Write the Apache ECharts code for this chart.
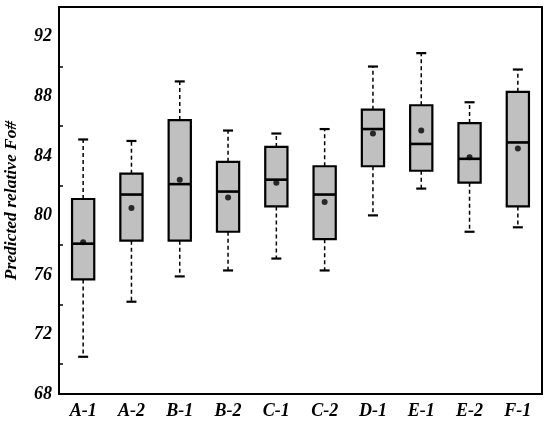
<!DOCTYPE html>
<html>
<head>
<meta charset="utf-8">
<script src="https://cdn.jsdelivr.net/npm/echarts@6/dist/echarts.min.js"></script>
<style>
  html, body { margin: 0; padding: 0; background: #fff; }
  #chart { width: 550px; height: 423px; }
</style>
</head>
<body>
<div id="chart"></div>
<script>
// --- data ---
const categories = ['A-1', 'A-2', 'B-1', 'B-2', 'C-1', 'C-2', 'D-1', 'E-1', 'E-2', 'F-1'];
const whiskerLow  = [70.5, 74.2, 75.9, 76.3, 77.1, 76.3, 80.0, 81.8, 78.9, 79.2];
const q1Values    = [75.7, 78.3, 78.3, 78.9, 80.6, 78.4, 83.3, 83.0, 82.2, 80.6];
const medians     = [78.1, 81.4, 82.1, 81.6, 82.4, 81.4, 85.8, 84.8, 83.8, 84.9];
const q3Values    = [81.1, 82.8, 86.4, 83.6, 84.6, 83.3, 87.1, 87.4, 86.2, 88.3];
const whiskerHigh = [85.1, 85.0, 89.0, 85.7, 85.5, 85.8, 90.0, 90.9, 87.6, 89.8];
const means       = [78.2, 80.5, 82.4, 81.2, 82.2, 80.9, 85.5, 85.7, 83.9, 84.5];

const FONT = '"Liberation Serif", "Times New Roman", serif';

const boxData = categories.map((c, i) =>
    [i, whiskerLow[i], q1Values[i], medians[i], q3Values[i], whiskerHigh[i]]);
const meanData = categories.map((c, i) => [i, means[i]]);

// box + dashed whiskers, positions come from the axes via api.coord
function renderBox(params, api) {
    const i = api.value(0);
    const pMin = api.coord([i, api.value(1)]);
    const pQ1 = api.coord([i, api.value(2)]);
    const pMed = api.coord([i, api.value(3)]);
    const pQ3 = api.coord([i, api.value(4)]);
    const pMax = api.coord([i, api.value(5)]);
    const band = api.size([1, 0])[0];
    const x = pMed[0];
    const half = band * 0.23;
    const cap = 5;
    const dash = { stroke: '#000', lineWidth: 1.5, lineDash: [4, 3] };
    const solid = { stroke: '#000', lineWidth: 2.2 };
    return {
        type: 'group',
        children: [
            { type: 'line', shape: { x1: x, y1: pQ3[1], x2: x, y2: pMax[1] }, style: dash },
            { type: 'line', shape: { x1: x, y1: pQ1[1], x2: x, y2: pMin[1] }, style: dash },
            { type: 'line', shape: { x1: x - cap, y1: pMax[1], x2: x + cap, y2: pMax[1] }, style: solid },
            { type: 'line', shape: { x1: x - cap, y1: pMin[1], x2: x + cap, y2: pMin[1] }, style: solid },
            { type: 'rect', shape: { x: x - half, y: pQ3[1], width: half * 2, height: pQ1[1] - pQ3[1] },
              style: { fill: '#c0c0c0', stroke: '#000', lineWidth: 2.2 } },
            { type: 'line', shape: { x1: x - half, y1: pMed[1], x2: x + half, y2: pMed[1] },
              style: { stroke: '#000', lineWidth: 2.6 } }
        ]
    };
}

const chart = echarts.init(document.getElementById('chart'));
chart.setOption({
    animation: false,
    grid: { left: 59, right: 8, top: 7, bottom: 29, show: true, borderColor: '#000', borderWidth: 2,
            containLabel: false, outerBoundsMode: 'none' },
    xAxis: {
        type: 'category',
        data: categories,
        boundaryGap: true,
        axisLine: { lineStyle: { color: '#000', width: 2 } },
        axisTick: { inside: true, alignWithLabel: true, length: 6, lineStyle: { color: '#000', width: 2 } },
        axisLabel: { color: '#000', fontFamily: FONT, fontStyle: 'italic', fontWeight: 'bold', fontSize: 18, margin: 8 },
        splitLine: { show: false }
    },
    yAxis: {
        type: 'value',
        min: 68, max: 94, interval: 4,
        name: 'Predicted relative Fo#',
        nameLocation: 'middle',
        nameGap: 39,
        nameTextStyle: { color: '#000', fontFamily: FONT, fontStyle: 'italic', fontWeight: 'bold', fontSize: 17.5 },
        axisLine: { show: true, lineStyle: { color: '#000', width: 2 } },
        axisTick: { inside: true, length: 6, lineStyle: { color: '#000', width: 2 } },
        minorTick: { show: true, splitNumber: 2, length: 4, lineStyle: { color: '#000', width: 1.5 } },
        axisLabel: { color: '#000', fontFamily: FONT, fontStyle: 'italic', fontWeight: 'bold', fontSize: 18, margin: 7,
                     showMaxLabel: false },
        splitLine: { show: false }
    },
    series: [
        { type: 'custom', renderItem: renderBox, data: boxData, encode: { x: 0, y: [1, 2, 3, 4, 5] }, z: 2 },
        { type: 'scatter', data: meanData, symbol: 'circle', symbolSize: 6,
          itemStyle: { color: '#000' }, z: 3 }
    ]
});
</script>
</body>
</html>
